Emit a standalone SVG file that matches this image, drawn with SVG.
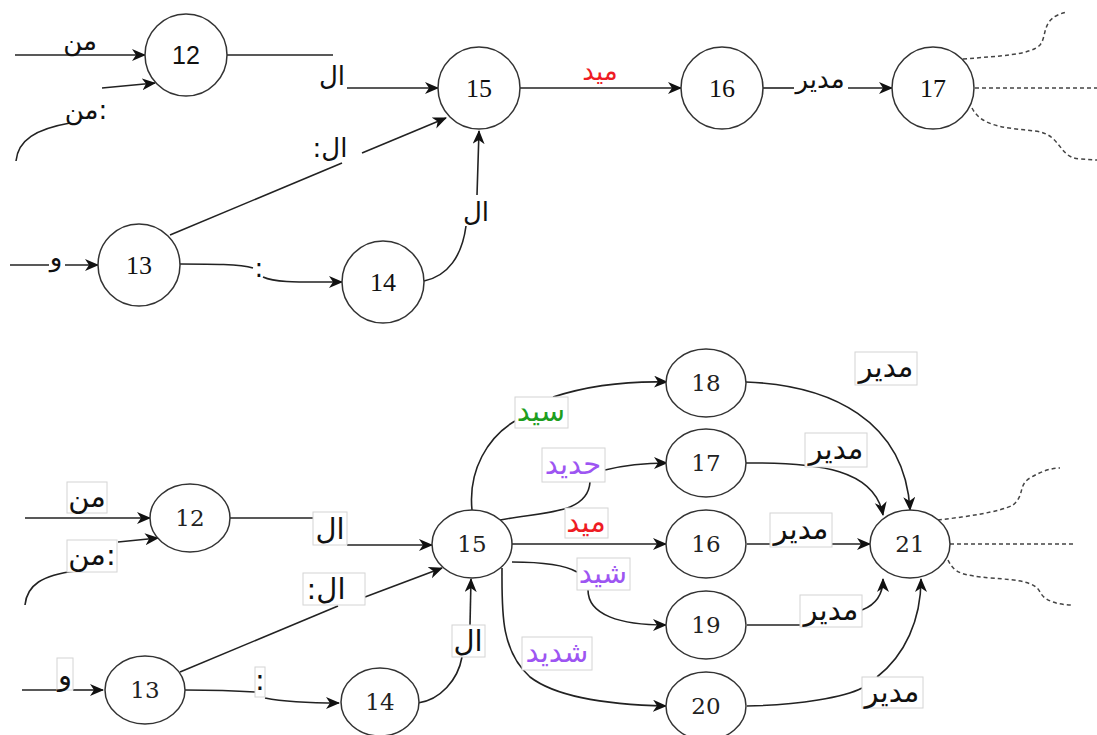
<svg xmlns="http://www.w3.org/2000/svg" width="1097" height="735" viewBox="0 0 1097 735">
<defs>
<marker id="arr" markerUnits="userSpaceOnUse" markerWidth="16" markerHeight="14" refX="13" refY="6" orient="auto">
<path d="M0,0 L14,6 L0,12 L4,6 z" fill="#111"/>
</marker>
<style>
.n{fill:#fff;stroke:#333;stroke-width:1.5}
.e{fill:none;stroke:#222;stroke-width:1.6}
.a{marker-end:url(#arr)}
.d{fill:none;stroke:#444;stroke-width:1.5;stroke-dasharray:4 3}
.ts{font-family:"Liberation Sans",sans-serif;font-size:25px;fill:#111;text-anchor:middle}
.tt{font-family:"Liberation Serif",serif;font-size:26px;fill:#111;text-anchor:middle}
.tb{font-family:"DejaVu Serif",serif;font-size:23px;fill:#222;text-anchor:middle}
.ar{font-family:"DejaVu Sans",sans-serif;font-size:26px;fill:#111;text-anchor:middle}
.ab{font-family:"DejaVu Sans",sans-serif;font-size:29px;fill:#111;text-anchor:middle}
.bx{fill:#fff;stroke:#d4d4d4;stroke-width:1}
.red{fill:#ee1c24}
.grn{fill:#1e9e1e}
.pur{fill:#9d55f2}
</style>
</defs>
<rect width="1097" height="735" fill="#fff"/>

<g id="connectors">
<!-- top -->
<path class="e a" d="M15,55 H145"/>
<path class="e" d="M16,161 C18,140 36,129 70,123"/>
<path class="e a" d="M102,88 L155,83"/>
<path class="e" d="M227,55 H333"/>
<path class="e a" d="M347,88 H438"/>
<path class="e" d="M170,235 L342,163"/>
<path class="e a" d="M362,153 L446,118"/>
<path class="e" d="M10,265 H49"/>
<path class="e a" d="M65,265 H98"/>
<path class="e" d="M180,264 C212,264 240,264 253,268"/>
<path class="e a" d="M263,277 C276,283 300,282 342,282"/>
<path class="e" d="M424,281 C448,276 462,256 466,226"/>
<path class="e a" d="M477,195 L479,131"/>
<path class="e a" d="M520,88 H681"/>
<path class="e" d="M763,88 H795"/>
<path class="e a" d="M847,88 H892"/>
<path class="d" d="M963,59 C1000,56 1030,55 1040,45 C1048,35 1040,18 1067,12"/>
<path class="d" d="M975,88 H1097"/>
<path class="d" d="M972,108 C982,128 1010,128 1035,131 C1062,134 1058,158 1080,159 L1097,160"/>
<!-- bottom -->
<path class="e a" d="M25,518 H150"/>
<path class="e" d="M25,605 C27,585 42,575 76,571"/>
<path class="e a" d="M118,542 L158,538"/>
<path class="e" d="M230,518 H313"/>
<path class="e a" d="M347,545 H432"/>
<path class="e" d="M180,672 L338,606"/>
<path class="e a" d="M365,597 L442,568"/>
<path class="e" d="M22,690 H57"/>
<path class="e a" d="M73,690 H103"/>
<path class="e" d="M185,690 C215,690 240,691 255,692"/>
<path class="e a" d="M265,698 C285,702 310,703 339,703"/>
<path class="e" d="M418,703 C440,700 458,680 462,657"/>
<path class="e a" d="M470,625 L471,579"/>
<path class="e" d="M472,510 C468,470 488,437 515,421"/>
<path class="e a" d="M553,397 C590,385 630,381 667,382"/>
<path class="e" d="M500,520 C540,512 588,515 590,482"/>
<path class="e a" d="M605,470 C625,465 645,463 667,463"/>
<path class="e a" d="M512,544 H666"/>
<path class="e" d="M512,562 C540,562 565,565 577,572"/>
<path class="e a" d="M588,590 C588,615 620,625 666,625"/>
<path class="e a" d="M502,568 C502,610 500,650 530,677 C560,700 620,705 666,706"/>
<path class="e a" d="M746,382 C830,385 905,420 910,510"/>
<path class="e a" d="M746,463 C820,462 875,470 883,515"/>
<path class="e a" d="M747,544 H870"/>
<path class="e" d="M747,625 H800"/>
<path class="e a" d="M862,610 C875,605 883,595 883,579"/>
<path class="e" d="M747,706 C800,705 845,697 862,688"/>
<path class="e a" d="M877,677 C905,655 921,620 921,579"/>
<path class="d" d="M938,520 C965,517 1000,512 1013,505 C1025,495 1018,485 1030,478 C1040,472 1050,468 1060,468"/>
<path class="d" d="M950,544 H1075"/>
<path class="d" d="M948,560 C955,575 965,575 990,578 C1020,580 1035,582 1040,592 C1045,602 1060,605 1073,605"/>
</g>

<g id="top-labels">
<text class="ar" x="80" y="50">من</text>
<text class="ar" x="86" y="119">من:</text>
<text class="ar" x="332" y="85">ال</text>
<text class="ar" x="330" y="157">:ال</text>
<text class="ar" x="56" y="266">و</text>
<text class="ar" x="259" y="277">:</text>
<text class="ar" x="476" y="221">ال</text>
<text class="ar red" x="600" y="80">ميد</text>
<rect x="794" y="68" width="54" height="24" fill="#fff"/>
<text class="ar" x="820" y="88">مدير</text>
</g>

<g id="top-nodes">
<g id="t12"><circle class="n" cx="186" cy="55" r="41"/><text class="ts" x="186" y="64">12</text></g>
<g id="t15"><circle class="n" cx="479" cy="88" r="41"/><text class="tt" x="479" y="97">15</text></g>
<g id="t16"><circle class="n" cx="722" cy="88" r="41"/><text class="tt" x="722" y="97">16</text></g>
<g id="t17"><circle class="n" cx="933" cy="88" r="41"/><text class="tt" x="933" y="97">17</text></g>
<g id="t13"><circle class="n" cx="139" cy="265" r="41"/><text class="tt" x="139" y="274">13</text></g>
<g id="t14"><circle class="n" cx="383" cy="282" r="41"/><text class="tt" x="383" y="291">14</text></g>
</g>

<g id="bottom-labels">
<rect class="bx" x="67" y="482" width="40" height="31"/><text class="ab" x="87" y="507">من</text>
<rect class="bx" x="67" y="540" width="50" height="32"/><text class="ab" x="92" y="565">من:</text>
<rect class="bx" x="313" y="512" width="34" height="33"/><text class="ab" x="330" y="539">ال</text>
<rect class="bx" x="303" y="573" width="62" height="32"/><text class="ab" x="326" y="599">:ال</text>
<rect class="bx" x="57" y="658" width="16" height="32"/><text class="ab" x="65" y="685">و</text>
<rect class="bx" x="255" y="667" width="10" height="30"/><text class="ab" x="260" y="690">:</text>
<rect class="bx" x="452" y="625" width="33" height="32"/><text class="ab" x="468" y="651">ال</text>
<rect class="bx" x="515" y="397" width="53" height="31"/><text class="ab grn" x="541" y="421">سيد</text>
<rect class="bx" x="542" y="448" width="63" height="34"/><text class="ab pur" x="573" y="474">حديد</text>
<rect class="bx" x="565" y="508" width="43" height="30"/><text class="ab red" x="586" y="532">ميد</text>
<rect class="bx" x="577" y="558" width="53" height="32"/><text class="ab pur" x="603" y="583">شيد</text>
<rect class="bx" x="522" y="637" width="70" height="33"/><text class="ab pur" x="557" y="662">شديد</text>
<rect class="bx" x="855" y="352" width="62" height="33"/><text class="ab" x="886" y="377">مدير</text>
<rect class="bx" x="805" y="433" width="62" height="34"/><text class="ab" x="836" y="459">مدير</text>
<rect class="bx" x="770" y="513" width="62" height="34"/><text class="ab" x="801" y="539">مدير</text>
<rect class="bx" x="800" y="595" width="62" height="32"/><text class="ab" x="831" y="620">مدير</text>
<rect class="bx" x="862" y="677" width="61" height="31"/><text class="ab" x="892" y="702">مدير</text>
</g>

<g id="bottom-nodes">
<g id="b12"><ellipse class="n" cx="190" cy="518" rx="40" ry="34"/><text class="tb" x="190" y="526">12</text></g>
<g id="b15"><ellipse class="n" cx="472" cy="544" rx="40" ry="34"/><text class="tb" x="472" y="552">15</text></g>
<g id="b13"><ellipse class="n" cx="145" cy="690" rx="40" ry="34"/><text class="tb" x="145" y="698">13</text></g>
<g id="b14"><ellipse class="n" cx="380" cy="702" rx="39" ry="34"/><text class="tb" x="380" y="710">14</text></g>
<g id="b18"><ellipse class="n" cx="706" cy="383" rx="40" ry="34"/><text class="tb" x="706" y="391">18</text></g>
<g id="b17"><ellipse class="n" cx="706" cy="463" rx="40" ry="34"/><text class="tb" x="706" y="471">17</text></g>
<g id="b16"><ellipse class="n" cx="706" cy="544" rx="40" ry="34"/><text class="tb" x="706" y="552">16</text></g>
<g id="b19"><ellipse class="n" cx="706" cy="625" rx="40" ry="34"/><text class="tb" x="706" y="633">19</text></g>
<g id="b20"><ellipse class="n" cx="706" cy="706" rx="40" ry="34"/><text class="tb" x="706" y="714">20</text></g>
<g id="b21"><ellipse class="n" cx="910" cy="544" rx="40" ry="34"/><text class="tb" x="910" y="552">21</text></g>
</g>
</svg>
